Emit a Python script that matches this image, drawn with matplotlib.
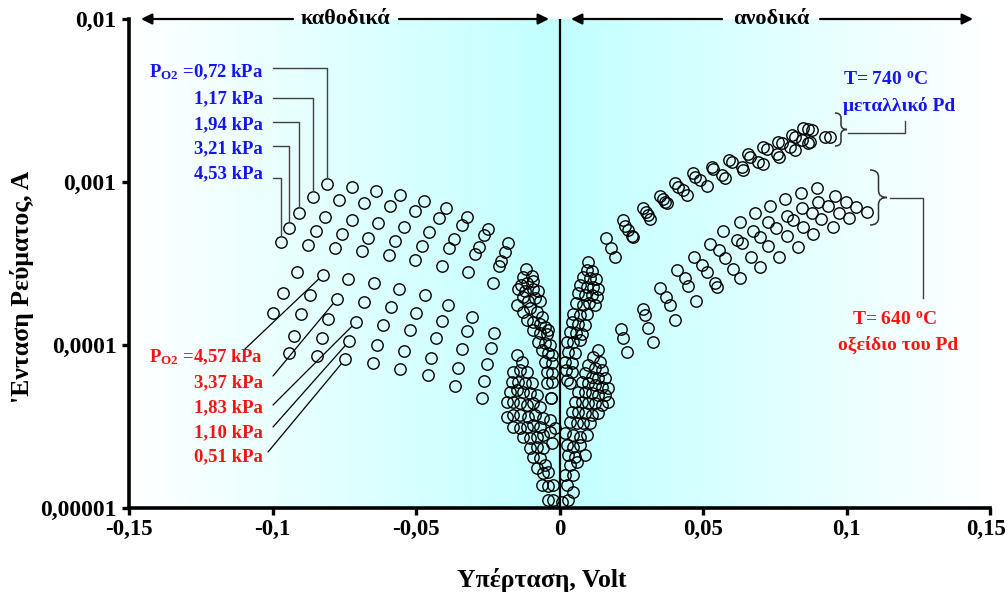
import numpy as np
import matplotlib
matplotlib.use("Agg")
import matplotlib.pyplot as plt
from matplotlib.path import Path
from matplotlib.patches import PathPatch
from matplotlib.ticker import NullLocator
from matplotlib.transforms import ScaledTranslation

# ---------------------------------------------------------------------------
# Data: overpotential (mV) and current (uA) for each O2 partial pressure
# ---------------------------------------------------------------------------
# T = 740 C, metallic Pd
eta_740_072 = [-81.1, -72.2, -63.8, -55.5, -47.3, -39.5, -32.1, -25.0, -17.8,
               -11.7, -9.1, -14.9, -12.6, -9.1, -6.8, -6.2, -4.5,
               10.0, 12.7, 6.5, 8.1, 9.5, 5.7, 3.1, 4.3,
               16.2, 22.2, 29.2, 35.0, 40.2, 46.4, 53.0, 59.2, 65.6, 71.0, 76.2, 80.9, 84.9]
cur_740_072 = [973, 937, 884, 832, 765, 690, 612, 513, 425,
               292, 246, 176, 160, 139, 118, 93.1, 68.7,
               321, 254, 207, 176, 156, 118, 91.0, 68.7,
               452, 585, 689, 821, 983, 1135, 1240, 1360, 1477, 1631, 1767, 1940, 2130]

eta_740_117 = [-86.0, -76.9, -68.0, -58.9, -50.3, -42.1, -34.0, -26.3, -19.0,
               -12.6, -14.4, -12.6, -10.3, -6.8, -4.5, -3.9, -2.7,
               9.5, 7.1, 8.9, 10.4, 4.3, 7.7, 5.4, 2.5,
               17.8, 22.8, 30.1, 36.0, 41.4, 47.2, 53.6, 60.0, 66.4, 72.2, 77.4, 82.0, 86.7]
cur_740_117 = [813, 773, 743, 713, 661, 604, 543, 471, 372,
               262, 222, 197, 168, 135, 116, 88.8, 67.1,
               288, 233, 202, 180, 139, 116, 88.8, 61.0,
               392, 538, 657, 784, 937, 1078, 1202, 1328, 1429, 1586, 1727, 1897, 2101]

eta_740_194 = [-90.7, -81.6, -72.4, -63.2, -54.3, -45.5, -36.8, -28.0, -20.5,
               -9.7, -12.0, -10.9, -7.9, -5.1, -7.4, -2.7, -4.5,
               11.2, 9.5, 11.2, 12.4, 6.5, 2.5, 1.9, 3.7,
               19.3, 24.0, 30.9, 36.8, 43.1, 48.9, 56.5, 63.5, 69.3, 75.7, 80.3, 84.4, 87.9]
cur_740_194 = [648, 612, 585, 563, 530, 494, 450, 401, 329,
               266, 214, 185, 160, 129, 104, 86.8, 58.2,
               284, 228, 202, 176, 135, 105, 79.0, 58.2,
               348, 508, 627, 757, 893, 1030, 1109, 1235, 1328, 1484, 1631, 1810, 2080]

eta_740_321 = [-94.3, -84.8, -75.7, -66.6, -57.3, -48.0, -38.5, -29.4, -21.2,
               -13.5, -9.1, -8.5, -6.2, -3.9, -5.1, -5.1, -2.7, -2.9,
               8.3, 11.8, 13.0, 4.8, 8.9, 4.8, 4.3,
               25.2, 31.5, 37.3, 44.3, 51.3, 57.7, 63.8, 71.0, 76.6, 82.0, 86.7, 92.5]
cur_740_321 = [521, 501, 480, 452, 433, 404, 396, 360, 305,
               235, 222, 193, 149, 124, 103, 79.0, 59.6, 47.5,
               262, 228, 197, 156, 132, 104, 77.2,
               467, 596, 740, 832, 947, 1055, 1190, 1285, 1429, 1570, 1727, 1897]

eta_740_453 = [-97.1, -87.7, -78.3, -68.8, -59.5, -50.4, -41.0, -32.0, -23.1,
               -11.2, -7.4, -6.8, -11.4, -9.1, -3.3, -2.7, -3.0,
               10.6, 13.5, 5.7, 7.1, 3.7, 7.1, 2.3,
               25.7, 87.3, 94.2]
cur_740_453 = [429, 409, 394, 378, 355, 331, 305, 279, 239,
               239, 214, 185, 142, 124, 99.7, 77.2, 47.2,
               256, 222, 180, 153, 121, 107, 70.3,
               462, 1767, 1879]

# T = 640 C, Pd oxide
eta_640_457 = [-91.6, -82.5, -73.6, -64.5, -55.8, -46.9, -38.7, -30.5, -22.7,
               -14.9, -16.7, -14.9, -16.1, -18.4, -5.6, -6.8, -5.6, -5.6, -7.9, -2.2,
               13.5, 14.7, 7.7, 6.5, 17.0, 14.7, 13.5, 1.9, 4.8, 3.7, 4.8,
               21.4, 29.0, 35.0, 40.8, 46.9, 52.4, 57.1, 62.9, 68.1, 73.3, 78.6, 84.0, 89.6]
cur_640_457 = [280, 268, 253, 239, 220, 203, 176, 148, 118,
               86.8, 59.6, 53.0, 44.9, 36.3, 35.5, 31.6, 28.1, 23.2, 17.5, 13.9,
               93.1, 70.3, 59.6, 51.8, 44.9, 42.9, 38.1, 28.7, 23.8, 18.4, 12.6,
               125, 166, 224, 288, 348, 417, 501, 566, 642, 713, 787, 860, 914]

eta_640_337 = [-96.4, -86.9, -77.6, -68.2, -58.8, -50.0, -41.0, -32.3, -24.0,
               -13.2, -14.4, -12.6, -13.8, -16.1, -16.1, -3.3, -3.3, -2.7, -5.6, -3.9,
               11.8, 8.9, 10.0, 8.9, 5.4, 4.3, 3.7, 4.8, 7.1, 6.0, 3.1,
               22.2, 29.8, 37.1, 43.7, 49.5, 55.7, 61.7, 67.3, 72.7, 79.2, 84.6, 90.0, 96.0]
cur_640_337 = [207, 203, 191, 183, 171, 158, 140, 122, 96.0,
               79.0, 59.6, 51.8, 43.9, 37.2, 31.6, 34.7, 29.4, 25.0, 16.3, 11.2,
               84.7, 67.1, 58.2, 51.8, 44.9, 39.0, 33.9, 28.1, 24.4, 19.2, 11.2,
               110, 153, 198, 256, 309, 383, 441, 501, 571, 618, 695, 757, 821]

eta_640_183 = [-99.7, -90.2, -80.6, -70.9, -61.5, -52.2, -43.0, -34.1, -25.2,
               -16.1, -12.0, -10.3, -11.4, -13.8, -13.8, -12.6, -1.6, -9.1, -3.9, -2.2,
               14.1, 11.2, 12.4, 11.2, 7.7, 6.5, 6.0, 7.1, 8.9, 1.9, 0.8,
               23.4, 30.9, 38.5, 44.9, 51.3, 57.7, 63.5, 69.9, 75.4, 81.5, 87.9, 93.4, 99.8]
cur_640_183 = [158, 154, 145, 138, 132, 123, 110, 94.0, 76.7,
               68.7, 58.2, 50.6, 42.9, 37.2, 30.8, 27.4, 30.8, 20.6, 16.7, 11.2,
               79.0, 64.0, 56.9, 50.6, 44.9, 39.0, 33.1, 27.4, 21.2, 15.9, 10.9,
               91.0, 127, 176, 230, 281, 340, 421, 458, 525, 585, 642, 713, 757]

eta_640_110 = [-92.5, -82.9, -73.2, -63.7, -54.1, -44.7, -35.4, -26.3,
               -13.8, -9.7, -7.9, -9.1, -10.9, -11.4, -10.3, -10.3, -6.8, -6.2,
               10.0, 13.5, 14.7, 13.5, 10.0, 8.9, 8.3, 9.5, 3.1, 4.8,
               32.7, 40.2, 47.6, 54.2, 60.6, 66.6, 72.7, 79.2, 84.9, 91.0, 97.5, 103.3]
cur_640_110 = [114, 110, 106, 99.5, 92.2, 83.6, 72.3, 60.4,
               70.3, 58.2, 49.4, 43.9, 36.3, 31.6, 26.8, 23.2, 20.2, 13.9,
               75.4, 62.5, 55.5, 49.4, 43.9, 38.1, 33.1, 28.1, 21.2, 15.9,
               105, 143, 185, 241, 291, 348, 405, 467, 532, 593, 648, 705]

eta_640_051 = [-94.2, -84.4, -74.7, -65.1, -55.6, -45.9, -36.5, -27.1,
               -11.4, -17.2, -18.4, -6.8, -8.5, -9.1, -7.9, -7.9, -5.1, -3.9,
               12.4, 15.9, 17.0, 15.9, 12.4, 11.2, 10.6, 2.5, 5.4, 2.5,
               54.8, 62.9, 69.9, 76.6, 83.2, 88.4, 95.2, 101.0, 107.2]
cur_640_051 = [88.8, 85.6, 81.7, 77.9, 71.3, 65.7, 56.3, 47.2,
               68.7, 51.8, 44.9, 41.9, 37.2, 32.3, 27.4, 23.8, 18.4, 13.6,
               72.0, 62.5, 54.3, 49.4, 43.9, 37.2, 33.1, 24.4, 20.6, 13.9,
               227, 256, 299, 348, 401, 480, 532, 599, 651]

po2_740 = ["0,72", "1,17", "1,94", "3,21", "4,53"]
po2_640 = ["4,57", "3,37", "1,83", "1,10", "0,51"]
eta_740 = [eta_740_072, eta_740_117, eta_740_194, eta_740_321, eta_740_453]
cur_740 = [cur_740_072, cur_740_117, cur_740_194, cur_740_321, cur_740_453]
eta_640 = [eta_640_457, eta_640_337, eta_640_183, eta_640_110, eta_640_051]
cur_640 = [cur_640_457, cur_640_337, cur_640_183, cur_640_110, cur_640_051]
# point of each 640 C series that its label leader points to
leader_idx_640 = [1, 2, 3, 2, 2]

x_ticks = [-0.15, -0.10, -0.05, 0.0, 0.05, 0.10, 0.15]
x_tick_labels = ["-0,15", "-0,1", "-0,05", "0", "0,05", "0,1", "0,15"]
y_ticks = [1e-5, 1e-4, 1e-3, 1e-2]
y_tick_labels = ["0,00001", "0,0001", "0,001", "0,01"]

# ---------------------------------------------------------------------------
plt.rcParams['font.family'] = ['Liberation Serif', 'DejaVu Serif']
plt.rcParams['font.weight'] = 'bold'
plt.rcParams['mathtext.fontset'] = 'custom'
plt.rcParams['mathtext.rm'] = 'Liberation Serif:bold'
plt.rcParams['mathtext.it'] = 'Liberation Serif:bold'
plt.rcParams['mathtext.bf'] = 'Liberation Serif:bold'

BLUE = '#1414F5'
RED = '#F51414'

W, H = 1008, 599
fig = plt.figure(figsize=(W / 100, H / 100), dpi=100)
L, R, T, B = 129, 990, 19, 508
rect = [L / W, 1 - B / H, (R - L) / W, (B - T) / H]


def frac(px, py):
    """Figure pixel position (origin top-left) -> axes fraction."""
    return (px - L) / (R - L), (B - py) / (B - T)


# background: white at both ends, light cyan at zero overpotential
bg = fig.add_axes(rect, zorder=0)
xs = np.linspace(0, 1, 600)
w = np.abs(xs - 0.5) / 0.5
cyan = np.array([0.76, 1.0, 1.0])
rgb = cyan[None, :] * (1 - w)[:, None] + np.ones(3)[None, :] * w[:, None]
bg.imshow(rgb[None, :, :], extent=[0, 1, 0, 1], aspect='auto', interpolation='bilinear')
bg.set_axis_off()

ax = fig.add_axes(rect, zorder=1)
ax.set_facecolor('none')
ax.set_yscale('log')
ax.set_xlim(-0.15, 0.15)
ax.set_ylim(1e-5, 1e-2)

for etas, curs in zip(eta_740 + eta_640, cur_740 + cur_640):
    ax.plot(np.array(etas) * 1e-3, np.array(curs) * 1e-6, ls='none', marker='o',
            ms=8.2, mfc='none', mec='black', mew=1.0, zorder=3)

ax.axvline(0, color='black', lw=1.6, zorder=2)

for side in ('top', 'right'):
    ax.spines[side].set_visible(False)
for side in ('left', 'bottom'):
    ax.spines[side].set_linewidth(2.6)

ax.set_xticks(x_ticks)
ax.set_xticklabels(x_tick_labels)
ax.set_yticks(y_ticks)
ax.set_yticklabels(y_tick_labels)
ax.yaxis.set_minor_locator(NullLocator())
ax.tick_params(axis='both', direction='out', length=5, width=2.4)
ax.tick_params(axis='y', pad=4, labelsize=17)
ax.tick_params(axis='x', pad=3, labelsize=16.5)
# keep the last x tick label inside the figure
last = ax.get_xticklabels()[-1]
last.set_transform(last.get_transform() + ScaledTranslation(-4 / 100, 0, fig.dpi_scale_trans))

ax.set_xlabel("Υπέρταση, Volt", fontsize=18.5, fontweight='bold')
ax.set_ylabel("'Ενταση Ρεύματος, A", fontsize=18.5, fontweight='bold')
ax.xaxis.set_label_coords(*frac(542, 580))
ax.xaxis.label.set_va('center')
ax.yaxis.set_label_coords(*frac(22, 287))
ax.yaxis.label.set_va('center')

# top arrows: cathodic / anodic regions
arrow_kw = dict(arrowstyle='-|>', color='black', lw=1.6, mutation_scale=16,
                shrinkA=0, shrinkB=0)
for (p0, p1) in [((293, 19), (141, 19)), ((399, 19), (549, 19)),
                 ((722, 19), (571, 19)), ((820, 19), (973, 19))]:
    ax.annotate('', xy=frac(*p1), xycoords='axes fraction',
                xytext=frac(*p0), textcoords='axes fraction', arrowprops=arrow_kw)
ax.text(*frac(346, 19), "καθοδικά", transform=ax.transAxes, ha='center', va='center',
        fontsize=16, fontweight='bold')
ax.text(*frac(771, 19), "ανοδικά", transform=ax.transAxes, ha='center', va='center',
        fontsize=16, fontweight='bold')

# labels of the 740 C series with elbow leaders
lab_y_740 = [72, 99, 125, 149, 174]
lead_y_740 = [68.3, 98.3, 122, 146, 177.7]
for i, p in enumerate(po2_740):
    txt = (r"$\mathrm{P_{O2}}$ =" + p + " kPa") if i == 0 else (p + " kPa")
    ax.text(*frac(263, lab_y_740[i]), txt, transform=ax.transAxes, ha='right',
            va='center', fontsize=13.5, fontweight='bold', color=BLUE)
    ax.annotate('', xy=(eta_740[i][0] * 1e-3, cur_740[i][0] * 1e-6), xycoords='data',
                xytext=frac(273, lead_y_740[i]), textcoords='axes fraction',
                arrowprops=dict(arrowstyle='-', color='#404040', lw=1.0, shrinkA=0,
                                shrinkB=4.2,
                                connectionstyle='angle,angleA=0,angleB=90,rad=0'))

# labels of the 640 C series with straight leaders
lab_y_640 = [357, 383, 408, 433, 457]
lead_start_640 = [(245, 349), (273, 376), (273, 405), (273, 427), (268, 452)]
for i, p in enumerate(po2_640):
    txt = (r"$\mathrm{P_{O2}}$ =" + p + " kPa") if i == 0 else (p + " kPa")
    ax.text(*frac(263, lab_y_640[i]), txt, transform=ax.transAxes, ha='right',
            va='center', fontsize=13.5, fontweight='bold', color=RED)
    k = leader_idx_640[i]
    ax.annotate('', xy=(eta_640[i][k] * 1e-3, cur_640[i][k] * 1e-6), xycoords='data',
                xytext=frac(*lead_start_640[i]), textcoords='axes fraction',
                arrowprops=dict(arrowstyle='-', color='black', lw=0.9, shrinkA=0,
                                shrinkB=4.2))


def brace(x0, yt, yb, width, r):
    """Right-facing curly brace in pixel coordinates."""
    xm = x0 + width / 2.0
    xt = x0 + width
    ym = (yt + yb) / 2.0
    pts = [(x0, yt), (xm, yt), (xm, yt + r), (xm, ym - r), (xm, ym), (xt, ym),
           (xm, ym), (xm, ym + r), (xm, yb - r), (xm, yb), (x0, yb)]
    codes = [Path.MOVETO, Path.CURVE3, Path.CURVE3, Path.LINETO, Path.CURVE3, Path.CURVE3,
             Path.CURVE3, Path.CURVE3, Path.LINETO, Path.CURVE3, Path.CURVE3]
    verts = [frac(px, py) for px, py in pts]
    ax.add_patch(PathPatch(Path(verts, codes), fill=False, ec='#303030', lw=1.1,
                           transform=ax.transAxes, clip_on=False))


brace(835, 113, 146, 12, 5)
brace(870, 170, 225, 17, 7)

ax.plot(*zip(frac(848, 133), frac(905, 133), frac(905, 121)), color='#404040', lw=1.0,
        transform=ax.transAxes, clip_on=False)
ax.plot(*zip(frac(890, 197.5), frac(923, 197.5), frac(923, 298)), color='#404040', lw=1.0,
        transform=ax.transAxes, clip_on=False)

ax.text(*frac(886, 80), r"T= 740 $^{\mathrm{o}}$C", transform=ax.transAxes, ha='center',
        va='center', fontsize=14, fontweight='bold', color=BLUE)
ax.text(*frac(899, 106), "μεταλλικό Pd", transform=ax.transAxes, ha='center',
        va='center', fontsize=14, fontweight='bold', color=BLUE)
ax.text(*frac(895, 320), r"T= 640 $^{\mathrm{o}}$C", transform=ax.transAxes, ha='center',
        va='center', fontsize=14, fontweight='bold', color=RED)
ax.text(*frac(898, 345), "οξείδιο του Pd", transform=ax.transAxes, ha='center',
        va='center', fontsize=14, fontweight='bold', color=RED)

fig.savefig("out.png", dpi=100)
